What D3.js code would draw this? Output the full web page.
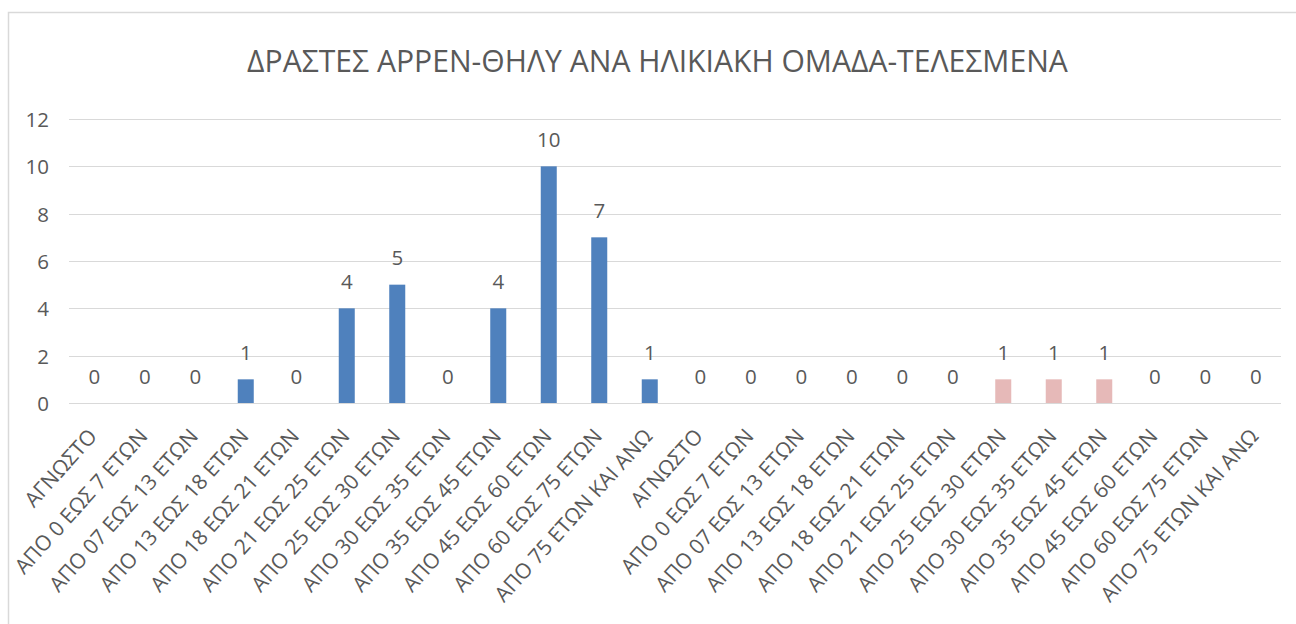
<!DOCTYPE html>
<html>
<head>
<meta charset="utf-8">
<script src="https://cdn.jsdelivr.net/npm/d3@7"></script>
<style>
  html, body { margin: 0; padding: 0; background: #fff; }
  svg { display: block; }
  text { font-family: "Open Sans", "Noto Sans", sans-serif; fill: #595959; }
</style>
</head>
<body>
<svg id="chart" width="1296" height="624"></svg>
<script>
const title = "ΔΡΑΣΤΕΣ ΑΡΡΕΝ-ΘΗΛΥ ΑΝΑ ΗΛΙΚΙΑΚΗ ΟΜΑΔΑ-ΤΕΛΕΣΜΕΝΑ";
const ageGroups = [
  "ΑΓΝΩΣΤΟ", "ΑΠΟ 0 ΕΩΣ 7 ΕΤΩΝ", "ΑΠΟ 07 ΕΩΣ 13 ΕΤΩΝ", "ΑΠΟ 13 ΕΩΣ 18 ΕΤΩΝ",
  "ΑΠΟ 18 ΕΩΣ 21 ΕΤΩΝ", "ΑΠΟ 21 ΕΩΣ 25 ΕΤΩΝ", "ΑΠΟ 25 ΕΩΣ 30 ΕΤΩΝ", "ΑΠΟ 30 ΕΩΣ 35 ΕΤΩΝ",
  "ΑΠΟ 35 ΕΩΣ 45 ΕΤΩΝ", "ΑΠΟ 45 ΕΩΣ 60 ΕΤΩΝ", "ΑΠΟ 60 ΕΩΣ 75 ΕΤΩΝ", "ΑΠΟ 75 ΕΤΩΝ ΚΑΙ ΑΝΩ"
];
const maleValues   = [0, 0, 0, 1, 0, 4, 5, 0, 4, 10, 7, 1];
const femaleValues = [0, 0, 0, 0, 0, 0, 1, 1, 1, 0, 0, 0];
const yTicks = [0, 2, 4, 6, 8, 10, 12];
const colors = { male: "#4F81BD", female: "#E6B9B8" };

const rows = [];
ageGroups.forEach((g, i) => rows.push({ key: "m" + i, label: g, value: maleValues[i], sex: "male" }));
ageGroups.forEach((g, i) => rows.push({ key: "f" + i, label: g, value: femaleValues[i], sex: "female" }));

const svg = d3.select("#chart");

// outer chart border
svg.append("rect")
  .attr("x", 8.5).attr("y", 12.5).attr("width", 1300).attr("height", 700)
  .attr("fill", "none").attr("stroke", "#d9d9d9").attr("stroke-width", 1.5);

const plot = { left: 69, right: 1281, top: 119, bottom: 403 };

const x = d3.scaleBand().domain(rows.map(d => d.key))
  .range([plot.left, plot.right]).paddingInner(0.683).paddingOuter(0.3415);
const y = d3.scaleLinear().domain([0, 12]).range([plot.bottom, plot.top]);

// gridlines
svg.append("g").selectAll("line").data(yTicks).join("line")
  .attr("x1", plot.left).attr("x2", plot.right)
  .attr("y1", d => Math.round(y(d)) + 0.5).attr("y2", d => Math.round(y(d)) + 0.5)
  .attr("stroke", "#d9d9d9").attr("stroke-width", 1);

// y axis labels
const yAxis = d3.axisLeft(y).tickValues(yTicks).tickSize(0).tickPadding(0);
const yg = svg.append("g").attr("transform", `translate(49,0)`).call(yAxis);
yg.select(".domain").remove();
yg.attr("font-size", null).attr("font-family", null);
yg.selectAll("text").attr("font-size", 20.5).attr("fill", "#595959").attr("dy", "0.36em");

// bars
svg.append("g").selectAll("rect").data(rows).join("rect")
  .attr("x", d => x(d.key))
  .attr("width", x.bandwidth())
  .attr("y", d => y(d.value))
  .attr("height", d => y(0) - y(d.value))
  .attr("fill", d => colors[d.sex]);

// value labels
svg.append("g").selectAll("text").data(rows).join("text")
  .attr("x", d => x(d.key) + x.bandwidth() / 2)
  .attr("y", d => y(d.value) - 19.5)
  .attr("text-anchor", "middle")
  .attr("font-size", 20.5)
  .text(d => d.value);

// x axis labels (rotated)
const xAxis = d3.axisBottom(x).tickSize(0).tickFormat(k => rows.find(r => r.key === k).label);
const xg = svg.append("g").attr("transform", `translate(0,${plot.bottom})`).call(xAxis);
xg.select(".domain").remove();
xg.attr("font-size", null).attr("font-family", null);
xg.selectAll(".tick text")
  .attr("font-size", 21)
  .attr("fill", "#595959")
  .attr("text-anchor", "end")
  .attr("dy", 0)
  .attr("y", 0)
  .attr("transform", "translate(4,34) rotate(-48)");

// title
const t = svg.append("text")
  .attr("x", 657.5).attr("y", 72)
  .attr("text-anchor", "middle")
  .attr("font-size", 28)
  .text(title);
const w = t.node().getComputedTextLength();
t.attr("font-size", 28 * 821 / w);
</script>
</body>
</html>
